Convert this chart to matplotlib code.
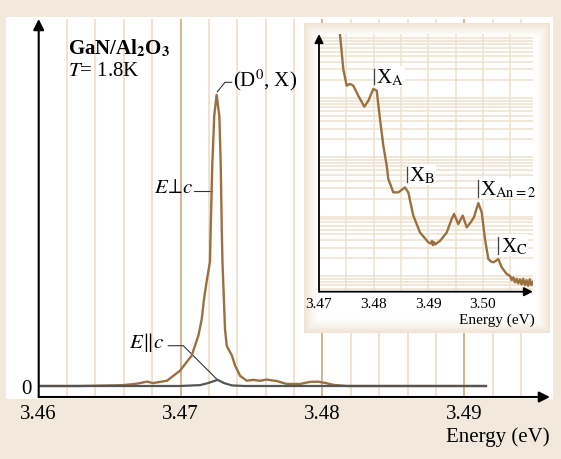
import numpy as np
import matplotlib
matplotlib.use("Agg")
import matplotlib.pyplot as plt
from matplotlib.patches import Rectangle

plt.rcParams['font.family'] = ['Liberation Serif', 'DejaVu Serif']
plt.rcParams['mathtext.fontset'] = 'stix'

# ---------------- data: main spectrum ----------------
main_E_perp = [3.46002, 3.46291, 3.46503, 3.46594, 3.46679, 3.46714, 3.46763, 3.46806,
               3.46904, 3.46995, 3.47078, 3.47125, 3.47149, 3.47165, 3.47186, 3.47207,
               3.47212, 3.47223, 3.47237, 3.47254, 3.47273, 3.47283, 3.47290, 3.47295,
               3.47313, 3.47325, 3.47336, 3.47360, 3.47384, 3.47419, 3.47466, 3.47510,
               3.47559, 3.47607, 3.47677, 3.47748, 3.47841, 3.47912, 3.47968, 3.48025,
               3.48074, 3.48173, 3.49152]
main_I_perp = [0.0, 0.0, 0.002, 0.003, 0.007, 0.010, 0.015, 0.010,
               0.018, 0.052, 0.104, 0.172, 0.229, 0.298, 0.366, 0.425,
               0.538, 0.753, 0.925, 0.997, 0.925, 0.753, 0.538, 0.425,
               0.195, 0.138, 0.127, 0.106, 0.070, 0.035, 0.018, 0.021,
               0.018, 0.022, 0.017, 0.007, 0.007, 0.014, 0.015, 0.010,
               0.004, 0.0, 0.0]

main_E_par = [3.46002, 3.46996, 3.47137, 3.47193, 3.47261, 3.47306, 3.47362, 3.47450, 3.49152]
main_I_par = [0.0, 0.0, 0.003, 0.010, 0.021, 0.010, 0.002, 0.0, 0.0]

main_xticks = [3.46, 3.47, 3.48, 3.49]
main_xticklabels = ['3.46', '3.47', '3.48', '3.49']

# ---------------- data: inset (log intensity) ----------------
ins_E = [3.47375, 3.47416, 3.47445, 3.47507, 3.47568, 3.47628, 3.47720, 3.47830,
         3.47903, 3.47995, 3.48057, 3.48117, 3.48178, 3.48240, 3.48269, 3.48361,
         3.48452, 3.48575, 3.48635, 3.48727, 3.48850, 3.49002, 3.49050, 3.49070,
         3.49090, 3.49110, 3.49130, 3.49216, 3.49339, 3.49430, 3.49473, 3.49551,
         3.49632, 3.49705, 3.49778, 3.49839, 3.49918, 3.49980, 3.50040, 3.50101,
         3.50150, 3.50192, 3.50240, 3.50284, 3.50346, 3.50400, 3.50438, 3.50500,
         3.50530, 3.50560, 3.50590, 3.50620, 3.50650, 3.50680, 3.50710, 3.50740,
         3.50770, 3.50800, 3.50830, 3.50860, 3.50890, 3.50920]
ins_I = [14000, 5830, 3050, 1600, 1710, 1600, 1080, 710,
         890, 1410, 1320, 440, 156, 72, 43, 25.6,
         25.6, 31, 25.6, 10.4, 5.4, 3.7, 3.5, 3.9,
         3.3, 3.7, 3.4, 3.9, 5.4, 9.1, 11.1, 7.5,
         10.4, 6.6, 8.0, 9.8, 16.9, 11.8, 4.2, 1.93,
         1.75, 1.70, 1.80, 1.93, 1.40, 1.20, 1.08, 1.0,
         0.85, 0.95, 0.78, 0.90, 0.75, 0.88, 0.72, 0.90,
         0.70, 0.85, 0.68, 0.88, 0.70, 0.80]

ins_xticks = [3.47, 3.48, 3.49, 3.50]
ins_xticklabels = ['3.47', '3.48', '3.49', '3.50']
ins_minor = [3.475, 3.485, 3.495, 3.505]

# labels in inset
ins_labels_E = [3.48007, 3.48606, 3.49907, 3.50284]
ins_labels_ylo = [1710, 38.2, 21.4, 2.35]
ins_labels_yhi = [3050, 68.4, 41.3, 4.54]
ins_labels_text = [r'X$_\mathrm{A}$', r'X$_\mathrm{B}$', r'X$_\mathrm{An=2}$', r'X$_\mathrm{C}$']

# ---------------- styling ----------------
W, H = 561, 460
BEIGE = '#f2e9dc'
GRID = '#efe1cf'
GRID_DARK = '#cdb08a'
BROWN = '#9a7040'
GRAY = '#555555'

def fx(px):
    return px / W

def fy(py):
    return 1 - py / H

fig = plt.figure(figsize=(W / 100, H / 100), dpi=100, facecolor=BEIGE)

# white main panel
fig.add_artist(Rectangle((fx(6), fy(400)), fx(553) - fx(6), fy(18) - fy(400),
                         transform=fig.transFigure, facecolor='white',
                         edgecolor='none', zorder=-5))

# ---------------- main axes ----------------
x0, x1 = 38.7, 550
ybot, ytop = 398, 20
ax = fig.add_axes([fx(x0), fy(ybot), fx(x1) - fx(x0), fy(ytop) - fy(ybot)])
ax.set_facecolor('none')
ax.set_xlim(3.46, 3.46 + (x1 - x0) / 14190)
ax.set_ylim((387 - ybot) / 292, (387 - ytop) / 292)
for s in ax.spines.values():
    s.set_visible(False)

grid_x = np.arange(3.462, 3.4955, 0.002)
for g in grid_x:
    major = any(abs(g - t) < 1e-6 for t in main_xticks)
    ax.axvline(g, color=GRID_DARK if major else GRID, lw=1.3, zorder=0)

ax.plot(main_E_perp, main_I_perp, color=BROWN, lw=1.7, zorder=3,
        solid_joinstyle='round')
ax.plot(main_E_par, main_I_par, color=GRAY, lw=1.6, zorder=4,
        solid_joinstyle='round')

ax.set_xticks(main_xticks)
ax.set_xticklabels(main_xticklabels)
ax.set_yticks([0])
ax.set_yticklabels(['0'])
ax.tick_params(length=0, labelsize=15, pad=5)

arr = dict(arrowstyle='-|>', lw=1.5, color='black', mutation_scale=16,
           shrinkA=0, shrinkB=0)
ax.annotate('', xy=(1, 0), xytext=(0, 0), xycoords='axes fraction',
            textcoords='axes fraction', arrowprops=arr, zorder=6)
ax.annotate('', xy=(0, 1), xytext=(0, 0), xycoords='axes fraction',
            textcoords='axes fraction', arrowprops=arr, zorder=6)

fig.text(fx(550), fy(437), 'Energy (eV)', fontsize=15, ha='right', va='center')

lead = dict(color='#333333', lw=0.8)
ax.plot([3.47259, 3.47313, 3.47360], [1.008, 1.040, 1.040], **lead)
ax.text(3.47371, 1.051, r'(D$^0$, X)', fontsize=15, ha='left', va='center')
ax.plot([3.47097, 3.47219], [0.669, 0.669], **lead)
ax.text(3.47085, 0.664, r'$E\!\perp\! c$', fontsize=15, ha='right', va='baseline')
ax.plot([3.46913, 3.47019, 3.47254], [0.138, 0.138, 0.024], **lead)
ax.text(3.46890, 0.1336, r'$E\!\parallel\! c$', fontsize=15, ha='right', va='baseline')

fig.text(fx(68), fy(54), r'GaN/Al$_\mathbf{2}$O$_\mathbf{3}$', fontsize=15,
         fontweight='bold', ha='left', va='baseline')
fig.text(fx(68), fy(76), r'$T$= 1.8K', fontsize=15, ha='left', va='baseline')

# ---------------- inset panel: beige edges fading inward to white ----------------
px0, py0, px1, py1 = 304, 24, 550, 334
n = 14
c_beige = np.array(matplotlib.colors.to_rgb('#efe3d3'))
for k in range(n + 1):
    t = (k / n) ** 0.8
    col = c_beige + t * (1 - c_beige)
    fig.add_artist(Rectangle((fx(px0 + k), fy(py1 - k)), fx(px1 - k) - fx(px0 + k),
                             fy(py0 + k) - fy(py1 - k), transform=fig.transFigure,
                             facecolor=col, edgecolor='none', zorder=1))
fig.add_artist(Rectangle((fx(319), fy(292.7)), fx(536) - fx(319), fy(35) - fy(292.7),
                         transform=fig.transFigure, facecolor='white',
                         edgecolor='none', zorder=1.2))

# ---------------- inset axes ----------------
ax0, ax1_, ay0, ay1 = 319, 533, 292.7, 35
axi = fig.add_axes([fx(ax0), fy(ay0), fx(ax1_) - fx(ax0), fy(ay1) - fy(ay0)], zorder=2)
axi.set_facecolor('none')
axi.set_yscale('log')
axi.set_xlim(3.47, 3.47 + (ax1_ - ax0) / 5460)
axi.set_ylim(10 ** ((277 - ay0) / 59.4), 10 ** ((277 - ay1) / 59.4))
for s in axi.spines.values():
    s.set_visible(False)
axi.set_xticks(ins_xticks)
axi.set_xticklabels(ins_xticklabels)
axi.set_xticks(ins_minor, minor=True)
axi.yaxis.set_major_locator(matplotlib.ticker.LogLocator(base=10, numticks=20))
axi.yaxis.set_minor_locator(matplotlib.ticker.LogLocator(base=10, subs=np.arange(2, 10), numticks=20))
axi.yaxis.set_major_formatter(matplotlib.ticker.NullFormatter())
axi.yaxis.set_minor_formatter(matplotlib.ticker.NullFormatter())
axi.tick_params(which='both', length=0)
axi.tick_params(axis='x', labelsize=11, pad=4)
axi.grid(True, which='both', color=GRID, lw=1.1)
axi.set_axisbelow(True)

axi.plot(ins_E, ins_I, color=BROWN, lw=1.7, zorder=3, solid_joinstyle='round')

axi.annotate('', xy=(1, 0), xytext=(0, 0), xycoords='axes fraction',
             textcoords='axes fraction',
             arrowprops=dict(arr, mutation_scale=13, lw=1.3), zorder=6)
axi.annotate('', xy=(0, 1), xytext=(0, 0), xycoords='axes fraction',
             textcoords='axes fraction',
             arrowprops=dict(arr, mutation_scale=13, lw=1.3), zorder=6)

for e, lo, hi, txt in zip(ins_labels_E, ins_labels_ylo, ins_labels_yhi, ins_labels_text):
    axi.plot([e, e], [lo, hi], color='#444444', lw=0.9, zorder=5)
    yt = np.sqrt(lo * hi)
    axi.text(e + 0.00045, yt, txt, fontsize=15, ha='left', va='center', zorder=4,
             bbox=dict(facecolor='white', edgecolor='none', pad=0.5))

fig.text(fx(535), fy(320), 'Energy (eV)', fontsize=11, ha='right', va='center',
         zorder=3)

fig.savefig('out.png', dpi=100, facecolor=BEIGE)
